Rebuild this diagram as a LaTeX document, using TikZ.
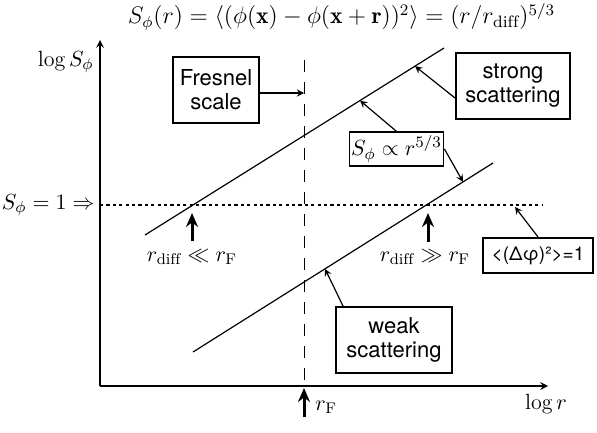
\documentclass[tikz,border=0pt]{standalone}
\usepackage{amsmath}
\usepackage{amssymb}
\usepackage{fontspec}
\setsansfont{TeX Gyre Heros}
\usetikzlibrary{positioning, arrows.meta}

\tikzset{
  box/.style={draw, line width=1pt, inner sep=0pt, align=center,
    font=\sffamily\fontsize{11}{12}\selectfont},
  lab/.style={inner sep=1pt, font=\fontsize{11}{12}\selectfont},
  pointer/.style={->, >=stealth, line width=0.6pt},
  bigup/.style={-{Stealth[length=7pt,width=6pt]}, line width=1.5pt},
}

\begin{document}
\begin{tikzpicture}[x=0.5pt, y=-0.5pt]
  \useasboundingbox (0,0) rectangle (597,432);

  % axes
  \coordinate (o) at (100,386);
  \coordinate (ytop) at (100,40);
  \coordinate (xend) at (548,386);
  \draw[->, >=stealth, line width=0.7pt] (o) -- (ytop);
  \draw[->, >=stealth, line width=0.7pt] (o) -- (xend);
  \node[lab, anchor=east] (ylab) at (96,62) {$\log S_\phi$};
  \node[lab] (xlab) at (546,404) {$\log r$};

  % title
  \node[lab, font=\fontsize{11.8}{14}\selectfont] (title) at (341.5,17)
    {$S_\phi(r) = \langle(\phi(\mathbf{x}) - \phi(\mathbf{x}+\mathbf{r}))^2\rangle = (r/r_{\rm diff})^{5/3}$};

  % S = 1 level and Fresnel scale
  \coordinate (d0) at (100,205);
  \coordinate (d1) at (543,205);
  \draw[line width=0.6pt, dash pattern=on 1.6pt off 1.6pt] (d0) -- (d1);
  \node[lab, anchor=east] (level) at (97,205) {$S_\phi = 1 \Rightarrow$};
  \coordinate (f0) at (304,60);
  \coordinate (f1) at (304,380);
  \draw[line width=0.5pt, dash pattern=on 6pt off 5pt] (f0) -- (f1);

  % power-law lines
  \draw[line width=0.6pt] (145,235) -- (444,48)
    coordinate[pos=0.903] (up1) coordinate[pos=0.719] (up2);
  \draw[line width=0.6pt] (193,352) -- (493,163)
    coordinate[pos=0.9] (lo1) coordinate[pos=0.44] (lo2);

  % boxes
  \node[box, minimum width=43pt, minimum height=33pt] (fresnel) at (216,90) {Fresnel\\scale};
  \node[box, minimum width=57pt, minimum height=33pt] (strong) at (513,86) {strong\\scattering};
  \node[box, minimum width=58pt, minimum height=33pt] (weak) at (394,340) {weak\\scattering};
  \node[box, minimum width=55pt, minimum height=17.5pt,
    font=\sffamily\fontsize{9.5}{11}\selectfont] (dphi) at (538,255.5) {<(Δφ)²>=1};
  \node[draw, line width=0.6pt, inner sep=1pt, minimum width=43.5pt, minimum height=17pt,
    font=\fontsize{11}{12}\selectfont] (slope) at (396.5,149) {$S_\phi \propto r^{5/3}$};

  \coordinate (fr) at (304,93);
  \coordinate (dl) at (515,207);
  \draw[pointer] (fresnel.east |- fr) -- (fr);
  \draw[pointer] ([yshift=-6pt]strong.west) -- (up1);
  \draw[pointer] (slope.north) -- (up2);
  \draw[pointer] (slope.east) -- (lo1);
  \draw[pointer] ([xshift=4pt]weak.north west) -- (lo2);
  \draw[pointer] (dphi.north) -- (dl);

  % crossing points
  \node[lab] (small) at (192,257) {$r_{\rm diff} \ll r_{\rm F}$};
  \node[lab] (large) at (425,257) {$r_{\rm diff} \gg r_{\rm F}$};
  \coordinate (s1) at (192,213);
  \coordinate (l1) at (428,213);
  \draw[bigup] (s1 |- 0,241) -- (s1);
  \draw[bigup] (l1 |- 0,242) -- (l1);

  % Fresnel scale on the r axis
  \coordinate (rf0) at (304,417);
  \coordinate (rf1) at (304,388);
  \draw[bigup] (rf0) -- (rf1);
  \node[lab, anchor=south west] (rf) at (313,416) {$r_{\rm F}$};
\end{tikzpicture}
\end{document}
